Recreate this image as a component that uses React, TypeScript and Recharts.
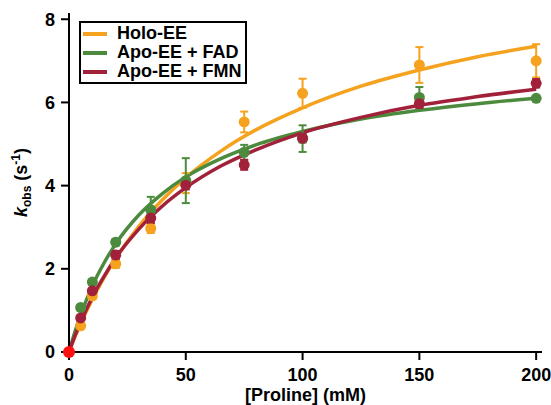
import React from "react";
import {
    ComposedChart, Line, Scatter, ErrorBar, XAxis, YAxis, Label,
} from "recharts";

// ── DATA ──────────────────────────────────────────────────────
const conc = [5, 10, 20, 35, 50, 75, 100, 150, 200];

const holoY = [0.63, 1.35, 2.12, 2.97, 4.06, 5.53, 6.22, 6.9, 7.0];
const holoErr = [0.06, 0.08, 0.1, 0.11, 0.24, 0.25, 0.35, 0.43, 0.4];

const fadY = [1.07, 1.68, 2.64, 3.42, 4.12, 4.8, 5.13, 6.12, 6.1];
const fadErr = [0.05, 0.07, 0.08, 0.31, 0.54, 0.18, 0.32, 0.25, 0.05];

const fmnY = [0.82, 1.47, 2.33, 3.22, 4.01, 4.5, 5.14, 5.97, 6.46];
const fmnErr = [0.05, 0.06, 0.1, 0.12, 0.1, 0.12, 0.1, 0.1, 0.1];

// fitted curves
const fitX = [0, 2.5, 5, 10, 15, 20, 30, 40, 50, 65, 80, 100, 125, 150, 175, 200];
const holoFit = [0, 0.35, 0.68, 1.27, 1.79, 2.25, 3.03, 3.66, 4.19, 4.83, 5.34, 5.87, 6.39, 6.78, 7.1, 7.35];
const fadFit = [0, 0.48, 0.89, 1.59, 2.14, 2.6, 3.3, 3.81, 4.21, 4.65, 4.98, 5.3, 5.6, 5.81, 5.97, 6.1];
const fmnFit = [0, 0.38, 0.72, 1.32, 1.82, 2.26, 2.96, 3.51, 3.95, 4.47, 4.86, 5.27, 5.64, 5.93, 6.14, 6.32];

const origin = [{ x: 0, y: 0 }];

const xTicks = [0, 50, 100, 150, 200];
const yTicks = [0, 2, 4, 6, 8];

// ── COLOURS ───────────────────────────────────────────────────
const ORANGE = "#F5A21E";
const GREEN = "#4C8B3D";
const MAROON = "#A2213A";
const FONT = "'Liberation Sans', Arial, sans-serif";

const pts = (ys: number[], errs: number[]) => ys.map((y, i) => ({ x: conc[i], y, err: errs[i] }));
const fit = (ys: number[]) => ys.map((y, i) => ({ x: fitX[i], y }));

const SERIES = [
    { name: "Holo-EE", color: ORANGE, points: pts(holoY, holoErr), curve: fit(holoFit) },
    { name: "Apo-EE + FAD", color: GREEN, points: pts(fadY, fadErr), curve: fit(fadFit) },
    { name: "Apo-EE + FMN", color: MAROON, points: pts(fmnY, fmnErr), curve: fit(fmnFit) },
];

const dot = (color: string, r = 5.5) => (p: any) => <circle cx={p.cx} cy={p.cy} r={r} fill={color} />;

const tickStyle = { fontSize: 18, fontWeight: 700, fill: "#000", fontFamily: FONT };

const XLabel = ({ viewBox }: any) => (
    <text x={viewBox.x + viewBox.width / 2} y={viewBox.y + 49} textAnchor="middle"
        style={{ fontSize: 18, fontWeight: 700, fontFamily: FONT }} fill="#000">
        [Proline] (mM)
    </text>
);

const YLabel = ({ viewBox }: any) => {
    const x = 27;
    const y = viewBox.y + viewBox.height / 2;
    return (
        <text x={x} y={y} transform={`rotate(-90, ${x}, ${y})`} textAnchor="middle"
            style={{ fontSize: 18, fontWeight: 700, fontFamily: FONT }} fill="#000">
            <tspan fontStyle="italic">k</tspan>
            <tspan fontSize={12} dy={4}>obs</tspan>
            <tspan dy={-4}> (s</tspan>
            <tspan fontSize={12} dy={-7}>-1</tspan>
            <tspan dy={7}>)</tspan>
        </text>
    );
};

function LegendBox() {
    return (
        <div style={{
            position: "absolute", left: 79, top: 21, width: 162, border: "2px solid #000",
            background: "#fff", padding: "1px 0 1px 2px", fontFamily: FONT, fontWeight: 700,
            fontSize: 18, lineHeight: "19px",
        }}>
            {SERIES.map(s => (
                <div key={s.name} style={{ display: "flex", alignItems: "center", height: 19 }}>
                    <span style={{ display: "inline-block", width: 24, height: 4, background: s.color, marginRight: 10 }} />
                    <span>{s.name}</span>
                </div>
            ))}
        </div>
    );
}

export default function App() {
    return (
        <div style={{ position: "absolute", left: 0, top: 0, width: 551, height: 405, background: "#fff" }}>
            <ComposedChart width={551} height={405} margin={{ top: 13, right: 9, left: 19, bottom: 23 }}>
                <XAxis type="number" dataKey="x" domain={[0, 202.5]} ticks={xTicks}
                    tick={tickStyle} tickSize={8} tickMargin={8} height={30}
                    axisLine={{ stroke: "#000", strokeWidth: 2 }} tickLine={{ stroke: "#000", strokeWidth: 2 }}>
                    <Label content={<XLabel />} />
                </XAxis>
                <YAxis type="number" dataKey="y" domain={[0, 8.15]} ticks={yTicks}
                    tick={tickStyle} tickSize={8} tickMargin={6} width={50}
                    axisLine={{ stroke: "#000", strokeWidth: 2 }} tickLine={{ stroke: "#000", strokeWidth: 2 }}>
                    <Label content={<YLabel />} />
                </YAxis>
                <XAxis xAxisId="top" orientation="top" type="number" domain={[0, 202.5]} height={0}
                    tick={false} tickLine={false} axisLine={{ stroke: "#000", strokeWidth: 2 }} />
                <YAxis yAxisId="right" orientation="right" type="number" domain={[0, 8.15]} width={0}
                    tick={false} tickLine={false} axisLine={{ stroke: "#000", strokeWidth: 2 }} />

                {SERIES.map(s => (
                    <Line key={s.name + "-fit"} data={s.curve} dataKey="y" type="monotone"
                        stroke={s.color} strokeWidth={3.5} dot={false} activeDot={false}
                        isAnimationActive={false} />
                ))}
                {SERIES.map(s => (
                    <Scatter key={s.name + "-pts"} data={s.points} dataKey="y" shape={dot(s.color)}
                        isAnimationActive={false}>
                        <ErrorBar dataKey="err" direction="y" width={4} stroke={s.color} strokeWidth={2} />
                    </Scatter>
                ))}
                <Scatter data={origin} dataKey="y" shape={dot("#FF1010", 6)} isAnimationActive={false} />
            </ComposedChart>
            <LegendBox />
        </div>
    );
}
